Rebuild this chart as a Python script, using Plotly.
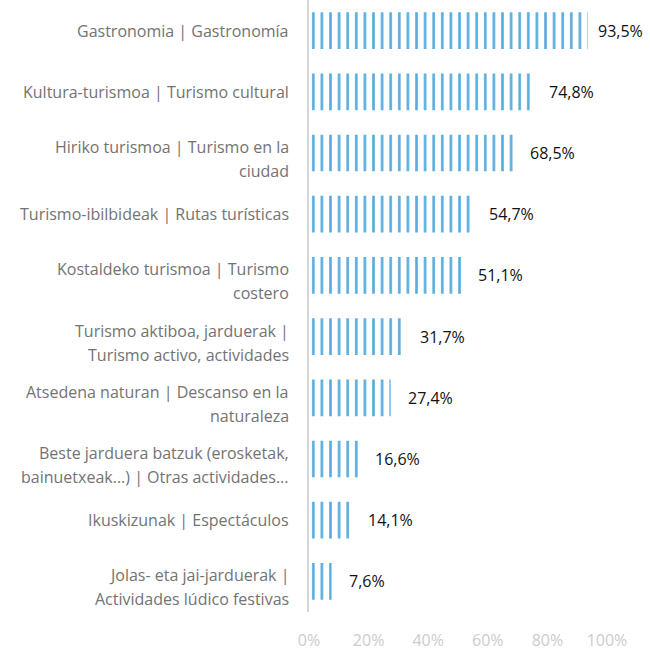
import plotly.graph_objects as go

categories = [
    "Gastronomia | Gastronomía",
    "Kultura-turismoa | Turismo cultural",
    "Hiriko turismoa | Turismo en la<br>ciudad",
    "Turismo-ibilbideak | Rutas turísticas",
    "Kostaldeko turismoa | Turismo<br>costero",
    "Turismo aktiboa, jarduerak |<br>Turismo activo, actividades",
    "Atsedena naturan | Descanso en la<br>naturaleza",
    "Beste jarduera batzuk (erosketak,<br>bainuetxeak...) | Otras actividades...",
    "Ikuskizunak | Espectáculos",
    "Jolas- eta jai-jarduerak |<br>Actividades lúdico festivas",
]
values = [93.5, 74.8, 68.5, 54.7, 51.1, 31.7, 27.4, 16.6, 14.1, 7.6]
value_labels = ["93,5%", "74,8%", "68,5%", "54,7%", "51,1%", "31,7%", "27,4%", "16,6%", "14,1%", "7,6%"]
tick_vals = [0, 20, 40, 60, 80, 100]
tick_text = ["0%", "20%", "40%", "60%", "80%", "100%"]

FONT = "Open Sans"
BLUE = "#56acdf"

fig = go.Figure()
fig.add_trace(go.Bar(
    x=values,
    y=categories,
    orientation="h",
    marker=dict(
        color=BLUE,
        line=dict(width=0),
        pattern=dict(shape="|", size=8.6, solidity=0.3, fillmode="replace", bgcolor="white"),
    ),
    width=0.6,
    hoverinfo="skip",
))

annotations = []
for cat, v, lab in zip(categories, values, value_labels):
    annotations.append(dict(
        x=v, y=cat, xref="x", yref="y", text=lab, showarrow=False,
        xanchor="left", yanchor="middle", xshift=15 if v < 90 else 8,
        font=dict(family=FONT, size=16, color="#111111"),
    ))
    lines = cat.split("<br>")
    n = len(lines)
    for i, ln in enumerate(lines):
        annotations.append(dict(
            x=0, y=cat, xref="paper", yref="y", text=ln, showarrow=False,
            xanchor="right", yanchor="middle", xshift=-18,
            yshift=(n - 1) / 2 * 12 - i * 24,
            font=dict(family=FONT, size=16, color="#737373"),
        ))

fig.update_layout(
    width=650, height=653,
    margin=dict(l=309, r=43, t=0, b=41),
    paper_bgcolor="white", plot_bgcolor="white",
    showlegend=False,
    annotations=annotations,
    xaxis=dict(
        range=[0, 100], tickvals=tick_vals, ticktext=tick_text,
        showgrid=False, zeroline=False, showline=False,
        tickfont=dict(family=FONT, size=16, color="#cccccc"),
        ticks="outside", ticklen=14, tickcolor="white",
    ),
    yaxis=dict(
        type="category", categoryarray=categories, autorange="reversed",
        showticklabels=False, showgrid=False, zeroline=False,
        showline=True, linecolor="#d6d6d6", linewidth=2,
    ),
)

fig.write_html(
    "out.html",
    config={"displayModeBar": False},
    post_script="document.body.style.margin='0';document.body.style.overflow='hidden';",
)
